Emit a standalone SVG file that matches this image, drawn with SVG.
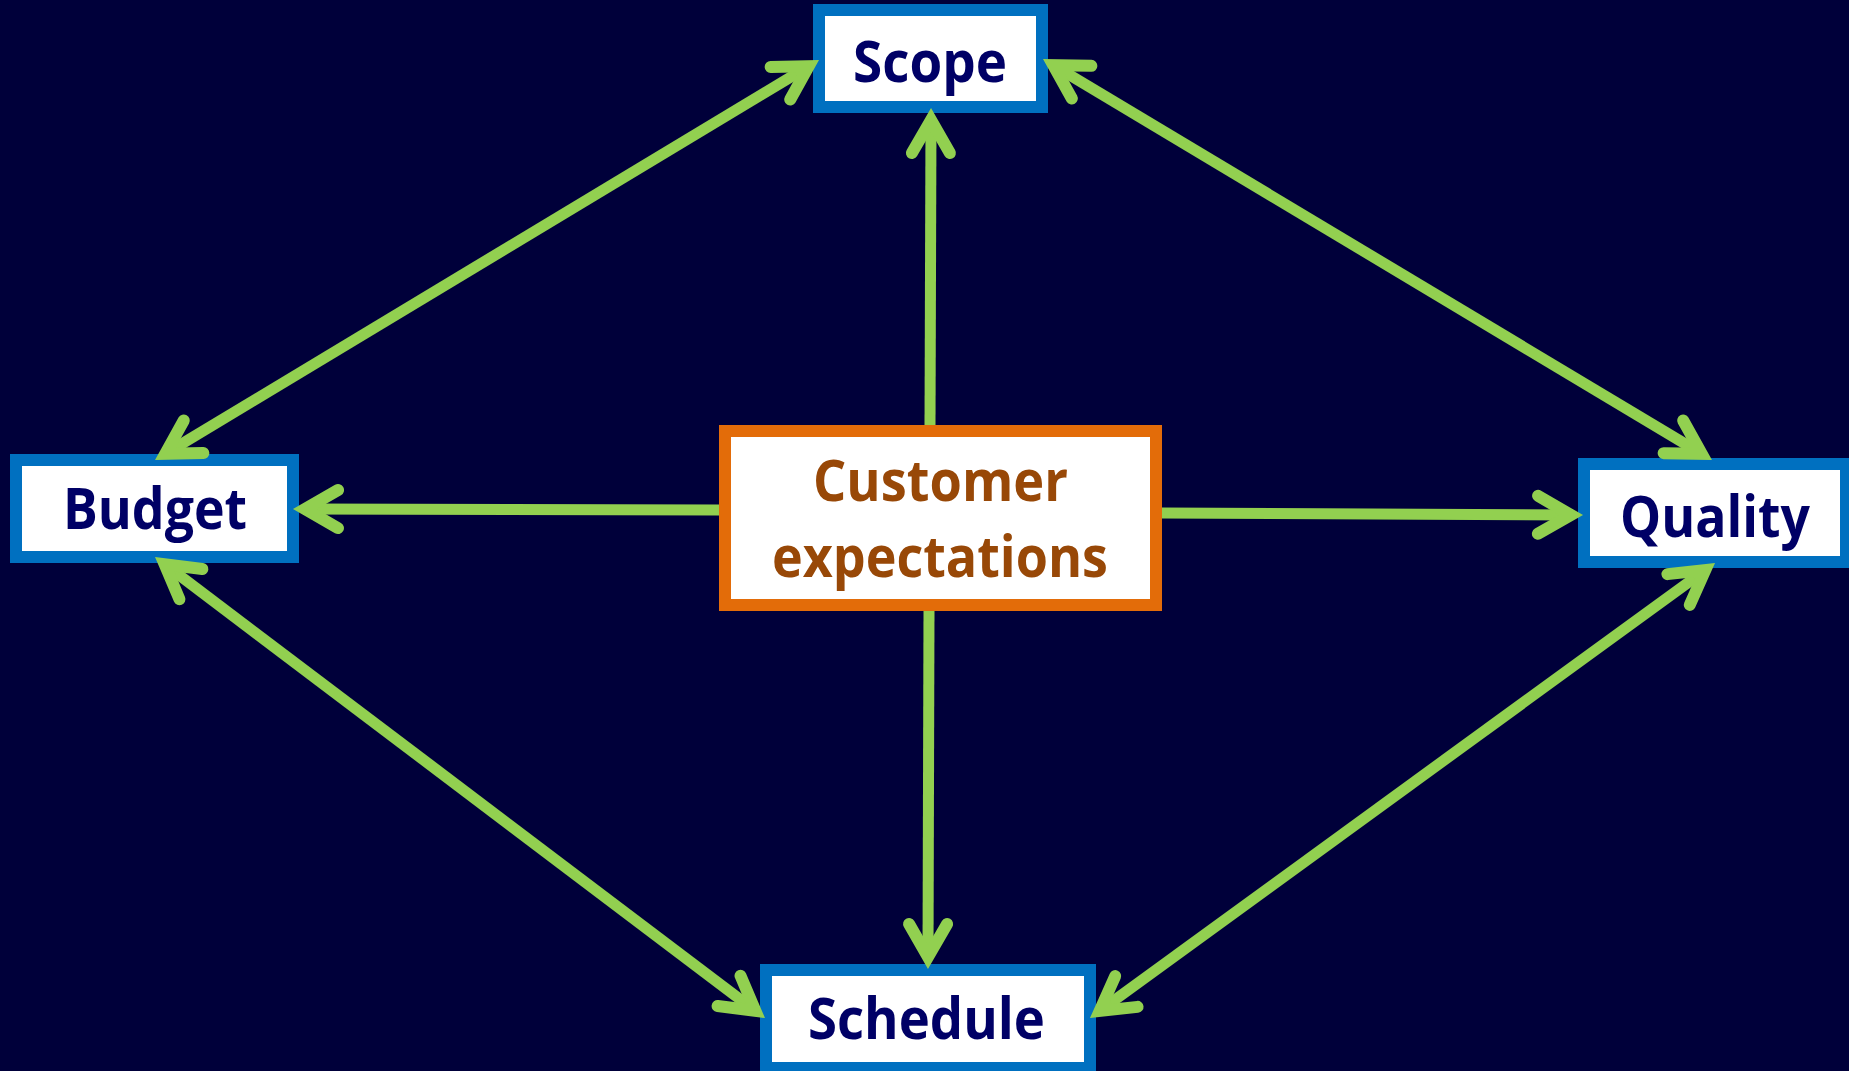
<svg xmlns="http://www.w3.org/2000/svg" width="1849" height="1071" viewBox="0 0 1849 1071">
<style>
.box{fill:#ffffff;stroke:#0070C0;stroke-width:12}
.cbox{fill:#ffffff;stroke:#E36C09;stroke-width:12}
.lbl{font-family:"Open Sans","Noto Sans","Liberation Sans",sans-serif;font-weight:bold;font-size:57px;fill:#000066}
.clbl{font-family:"Open Sans","Noto Sans","Liberation Sans",sans-serif;font-weight:bold;font-size:57px;fill:#984807}
.con{fill:none;stroke:#92D050;stroke-width:11}
</style>
<defs>
<marker id="ah" markerUnits="userSpaceOnUse" orient="auto-start-reverse" overflow="visible" markerWidth="1" markerHeight="1" refX="0" refY="0">
<path d="M-33,-19 L0,0 L-33,19" fill="none" stroke="#92D050" stroke-width="12" stroke-linecap="round" stroke-linejoin="miter" stroke-miterlimit="4"/>
</marker>
</defs>
<rect x="0" y="0" width="1849" height="1071" fill="#00003A"/>
<g id="scope"><rect class="box" x="819" y="10" width="223" height="97"/><text class="lbl" x="853" y="82" textLength="154" lengthAdjust="spacingAndGlyphs">Scope</text></g>
<g id="budget"><rect class="box" x="16" y="460" width="277" height="97"/><text class="lbl" x="63" y="529" textLength="184" lengthAdjust="spacingAndGlyphs">Budget</text></g>
<g id="customer"><rect class="cbox" x="725" y="431" width="431" height="174"/><text class="clbl" x="813" y="501" textLength="255" lengthAdjust="spacingAndGlyphs">Customer</text><text class="clbl" x="772" y="577" textLength="336" lengthAdjust="spacingAndGlyphs">expectations</text></g>
<g id="quality"><rect class="box" x="1584" y="464" width="262" height="98"/><text class="lbl" x="1620" y="537" textLength="190" lengthAdjust="spacingAndGlyphs">Quality</text></g>
<g id="schedule"><rect class="box" x="766" y="970" width="324" height="98"/><text class="lbl" x="808" y="1039" textLength="237" lengthAdjust="spacingAndGlyphs">Schedule</text></g>
<g id="connectors">
<path class="con" d="M930,425 L931,120" marker-end="url(#ah)"/>
<path class="con" d="M929,611 L928,957" marker-end="url(#ah)"/>
<path class="con" d="M719,510 L305,509" marker-end="url(#ah)"/>
<path class="con" d="M1162,513 L1571,515" marker-end="url(#ah)"/>
<path class="con" d="M165.3,453.8 L808.7,66.2" marker-start="url(#ah)" marker-end="url(#ah)"/>
<path class="con" d="M1053.3,65.2 L1701.7,453.8" marker-start="url(#ah)" marker-end="url(#ah)"/>
<path class="con" d="M164.6,564.2 L755.4,1010.8" marker-start="url(#ah)" marker-end="url(#ah)"/>
<path class="con" d="M1705.3,570.1 L1099.7,1010.9" marker-start="url(#ah)" marker-end="url(#ah)"/>
</g>
</svg>
